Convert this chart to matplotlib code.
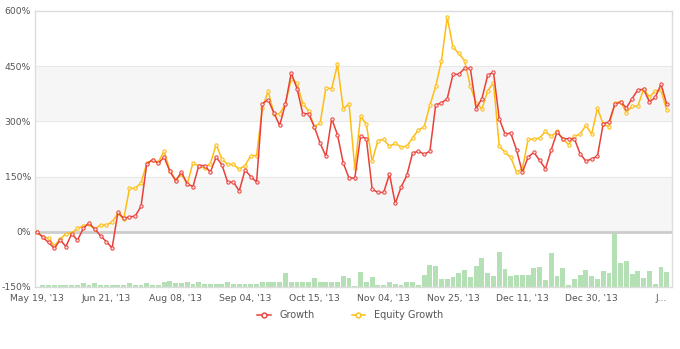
import matplotlib
matplotlib.use('Agg')
from matplotlib import pyplot as plt
from matplotlib.lines import Line2D

# growth vs equity growth with volume bars underneath

growth = [0, -15, -29, -45, -22, -40, -5, -23, 9, 24,
          7, -11, -27, -44, 53, 37, 40, 43, 69, 185,
          196, 186, 203, 164, 139, 162, 130, 123, 180, 180,
          162, 203, 182, 135, 135, 111, 168, 150, 135, 348,
          359, 323, 289, 348, 432, 389, 321, 321, 285, 241,
          205, 307, 264, 187, 146, 146, 260, 253, 116, 107,
          107, 157, 77, 121, 153, 214, 219, 211, 219, 345,
          350, 362, 428, 428, 444, 444, 335, 362, 425, 434,
          307, 266, 268, 222, 162, 203, 216, 194, 171, 223,
          271, 253, 253, 253, 212, 192, 198, 206, 294, 298,
          346, 353, 337, 362, 386, 387, 353, 365, 401, 346]

equity = [0, -13, -18, -38, -20, -5, -3, 9, 16, 21,
          7, 19, 18, 27, 50, 34, 118, 118, 133, 186,
          194, 190, 219, 166, 141, 157, 130, 188, 178, 173,
          185, 237, 198, 183, 183, 170, 180, 207, 207, 337,
          382, 321, 321, 348, 416, 403, 348, 328, 286, 295,
          391, 389, 455, 334, 348, 173, 314, 292, 192, 248,
          251, 232, 241, 230, 233, 255, 277, 285, 344, 395,
          465, 583, 501, 485, 465, 395, 350, 334, 383, 405,
          233, 216, 202, 162, 171, 251, 252, 255, 273, 259,
          273, 253, 237, 259, 266, 289, 266, 336, 292, 286,
          350, 353, 324, 341, 342, 389, 366, 383, 384, 330]

volume = [0, 2, 2, 2, 2, 2, 2, 2, 4, 2,
          4, 2, 2, 2, 2, 2, 4, 2, 2, 4,
          2, 2, 5, 6, 4, 4, 5, 3, 5, 3,
          3, 3, 3, 5, 3, 3, 3, 3, 3, 5,
          5, 5, 5, 14, 5, 5, 5, 5, 9, 5,
          5, 5, 5, 11, 9, 1.5, 15, 5, 10, 2,
          2, 5, 3, 2, 5, 5, 2, 12, 22, 21,
          8, 8, 10, 14, 17, 10, 21, 29, 14, 11,
          36, 18, 11, 12, 12, 12, 19, 20, 7, 34,
          11, 19, 2, 8, 12, 17, 11, 8, 16, 14,
          56, 24, 26, 13, 16, 9, 16, 3, 20, 15]

tick_labels = ["May 19, '13", "Jun 21, '13", "Aug 08, '13", "Sep 04, '13",
               "Oct 15, '13", "Nov 04, '13", "Nov 25, '13", "Dec 11, '13",
               "Dec 30, '13", "J..."]

RED = '#e8403a'
YELLOW = '#fdbd14'
GREEN = '#b5e0b5'

x = list(range(len(growth)))

fig = plt.figure(figsize=(6.8, 3.49), dpi=100)
ax = fig.add_axes([35 / 680, 1 - 287 / 349, 637 / 680, 276 / 349])

ax.axhspan(300, 450, color='#f6f6f6', zorder=0, lw=0)
ax.axhspan(0, 150, color='#f6f6f6', zorder=0, lw=0)
for yv in [150, 300, 450]:
    ax.axhline(yv, color='#e8e8e8', lw=0.8, zorder=1)

# volume bars on their own scale, max reaching the 0% line
ax2 = ax.twinx()
ax2.bar(x, volume, width=0.85, color=GREEN, zorder=1)
ax2.set_ylim(0, 56 * 5)
ax2.axis('off')
ax.set_zorder(ax2.get_zorder() + 1)
ax.patch.set_visible(False)
fig.patch.set_facecolor('white')

ax.axhline(0, color='#cccccc', lw=2, zorder=2)

ax.plot(x, equity, color=YELLOW, lw=1.1, marker='o', ms=2.4,
        mfc='#fff3cc', mec=YELLOW, mew=0.7, zorder=3)
ax.plot(x, growth, color=RED, lw=1.1, marker='o', ms=2.4,
        mfc='#fcdede', mec=RED, mew=0.7, zorder=4)

ax.set_xlim(-0.35, 109.9)
ax.set_ylim(-150, 600)
ax.set_yticks([-150, 0, 150, 300, 450, 600])
ax.set_yticklabels(['-150%', '0%', '150%', '300%', '450%', '600%'])
ax.set_xticks(x[::12])
ax.set_xticklabels(tick_labels)
ax.tick_params(axis='both', length=0, labelsize=6.7, colors='#555555')
ax.tick_params(axis='y', pad=3)
ax.tick_params(axis='x', pad=5)
for s in ax.spines.values():
    s.set_color('#dcdcdc')
    s.set_linewidth(1)

handles = [
    Line2D([0], [0], color=RED, lw=1.1, marker='o', ms=3.5, mfc='white', mec=RED, mew=1),
    Line2D([0], [0], color=YELLOW, lw=1.1, marker='o', ms=3.5, mfc='white', mec=YELLOW, mew=1),
]
leg = fig.legend(handles, ['Growth', 'Equity Growth'], loc='center',
                 bbox_to_anchor=(0.515, 1 - 315 / 349), ncol=2, frameon=False,
                 fontsize=7, handlelength=1.4, columnspacing=3.8, handletextpad=0.9)
for t in leg.get_texts():
    t.set_color('#555555')

fig.savefig('out.png', dpi=100)
